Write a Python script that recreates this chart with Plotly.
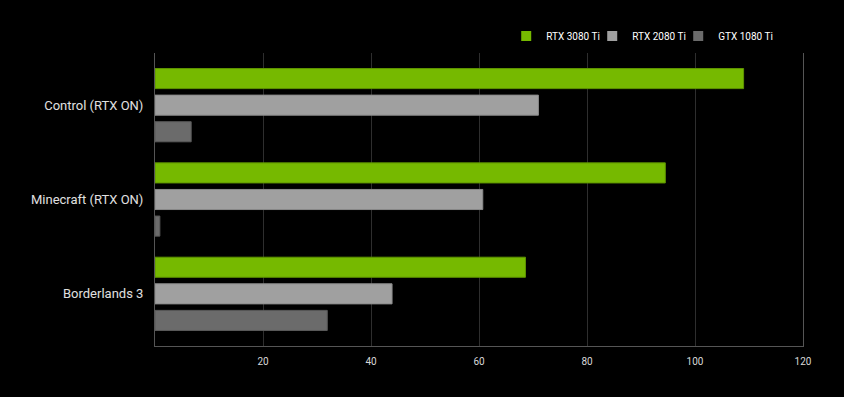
import plotly.graph_objects as go

categories = ["Control (RTX ON)", "Minecraft (RTX ON)", "Borderlands 3"]
series_names = ["RTX 3080 Ti", "RTX 2080 Ti", "GTX 1080 Ti"]
rtx3080ti = [109.0, 94.5, 68.6]
rtx2080ti = [71.0, 60.7, 43.9]
gtx1080ti = [6.7, 0.9, 31.9]
x_ticks = [20, 40, 60, 80, 100, 120]

fills = ["#76b900", "#a0a0a0", "#6b6b6b"]
edges = ["#5f9400", "#8a8a8a", "#5a5a5a"]

fig = go.Figure()
for name, vals, fc, ec in zip(series_names, [rtx3080ti, rtx2080ti, gtx1080ti], fills, edges):
    fig.add_trace(go.Bar(
        y=categories, x=vals, orientation="h", name=name,
        marker=dict(color=fc, line=dict(color=ec, width=1)),
        showlegend=False,
    ))
for name, fc in zip(series_names, fills):
    fig.add_trace(go.Scatter(
        x=[None], y=[None], mode="markers", name=name,
        marker=dict(symbol="square", size=10, color=fc),
    ))
# invisible spacer entry so the last legend label is not clipped
fig.add_trace(go.Scatter(
    x=[None], y=[None], mode="markers", name=" ",
    marker=dict(symbol="square", size=10, color="rgba(0,0,0,0)"),
))

fig.update_layout(
    width=844, height=397,
    paper_bgcolor="#000000", plot_bgcolor="#000000",
    margin=dict(l=155, r=41, t=53, b=51, autoexpand=False),
    barmode="group", bargap=0.154, bargroupgap=0.245,
    font=dict(family="Roboto", color="#e0e0e0"),
    showlegend=True,
    legend=dict(
        orientation="h", x=0.542, xanchor="left", y=1.058, yanchor="middle",
        font=dict(size=10, color="#ffffff", family="Roboto"),
        bgcolor="rgba(0,0,0,0)", entrywidth=41, entrywidthmode="pixels",
        itemclick=False,
    ),
    xaxis=dict(
        range=[0, 120], tickvals=x_ticks, ticktext=[str(v) for v in x_ticks],
        showgrid=True, gridcolor="#2e2e2e", gridwidth=1,
        showline=True, linecolor="#555555", linewidth=1,
        zeroline=False, ticks="outside", ticklen=6, tickcolor="rgba(0,0,0,0)",
        tickfont=dict(size=10, color="#d8d8d8", family="Roboto"),
    ),
    yaxis=dict(
        categoryorder="array", categoryarray=categories,
        range=[2.553, -0.553],
        showgrid=False, showline=True, linecolor="#555555", linewidth=1, mirror=True,
        ticks="outside", ticklen=8, tickcolor="rgba(0,0,0,0)",
        tickfont=dict(size=13, color="#e0e0e0", family="Roboto"),
    ),
)

fig.write_html(
    "out.html",
    config={"displayModeBar": False},
    post_script="document.body.style.margin='0';document.body.style.background='#000';",
)
